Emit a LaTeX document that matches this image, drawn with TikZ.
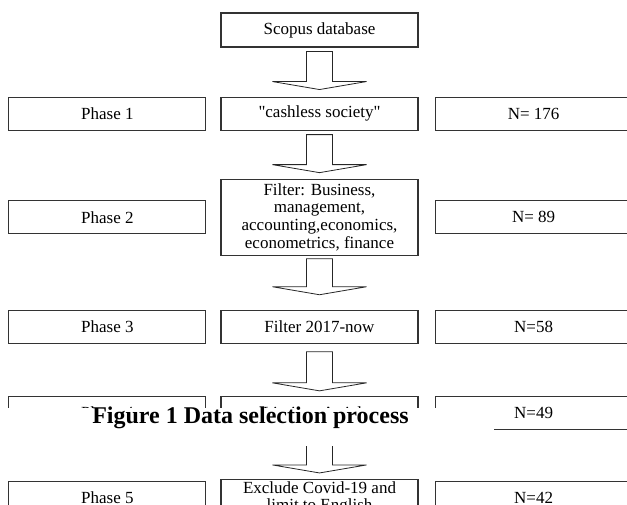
\documentclass[tikz,border=0pt]{standalone}
\usepackage{fontspec}
\setmainfont{Liberation Serif}[Ligatures=TeXOff]
\usetikzlibrary{positioning,calc}

% hollow down arrow: #1 upper node, #2 lower node, #3 gap below #1, #4 gap above #2
\newcommand{\blockarrow}[4]{%
    \draw[arrowline] ($(#1.south)+(-13pt,-#3)$) -- ($(#1.south)+(13pt,-#3)$)
        -- ($(#2.north)+(13pt,#4+8pt)$) -- ($(#2.north)+(47pt,#4+8pt)$)
        -- ($(#2.north)+(0pt,#4)$)
        -- ($(#2.north)+(-47pt,#4+8pt)$) -- ($(#2.north)+(-13pt,#4+8pt)$) -- cycle;
}

\begin{document}
\begin{tikzpicture} [
                x=1pt, y=1pt,
                stagebox/.style={
                    rectangle,
                    draw=black!80,
                    line width=1.1pt,
                    minimum width=197pt,
                    minimum height=33pt,
                    inner sep=2pt,
                    align=center,
                    font=\fontsize{17}{17.6}\selectfont
                },
                arrowline/.style={
                    draw=black!85,
                    line width=0.8pt,
                    line join=miter
                }
            ]

                \useasboundingbox (0,0) rectangle (627,504);
                \clip (0,0) rectangle (627,504);

                \node[stagebox, minimum height=34pt]    (scopus)    at (319.5,474)                  {Scopus database};

                \node[stagebox]                         (cashless)  [below=49pt of scopus]          {"cashless society"};
                \node[stagebox]                         (phase1)    [left=14pt of cashless]         {Phase 1};
                \node[stagebox]                         (count1)    [right=16pt of cashless]        {N= 176};

                \node[stagebox, minimum height=76pt]    (filter)    [below=48pt of cashless]        {Filter: Business,\\management,\\accounting,economics,\\econometrics, finance};
                \node[stagebox]                         (phase2)    [left=14pt of filter]           {Phase 2};
                \node[stagebox]                         (count2)    [right=16pt of filter]          {N= 89};

                \node[stagebox]                         (period)    [below=54pt of filter]          {Filter 2017-now};
                \node[stagebox]                         (phase3)    [left=14pt of period]           {Phase 3};
                \node[stagebox]                         (count3)    [right=16pt of period]          {N=58};

                \node[stagebox]                         (articles)  [below=52pt of period]          {Limit to Articles};
                \node[stagebox]                         (phase4)    [left=14pt of articles]         {Phase 4};
                \node[stagebox]                         (count4)    [right=16pt of articles]        {N=49};

                \node[stagebox]                         (exclude)   [below=49pt of articles]        {Exclude Covid-19 and\\limit to English};
                \node[stagebox]                         (phase5)    [left=14pt of exclude]          {Phase 5};
                \node[stagebox]                         (count5)    [right=16pt of exclude]         {N=42};

                \blockarrow{scopus}{cashless}{4pt}{7pt}
                \blockarrow{cashless}{filter}{4pt}{6pt}
                \blockarrow{filter}{period}{3pt}{15pt}
                \blockarrow{period}{articles}{8pt}{5pt}
                \blockarrow{articles}{exclude}{4pt}{6pt}

                % caption pasted over the fourth row
                \fill[white] (0,58) rectangle (494,96);
                \node[font=\bfseries\fontsize{24}{24}\selectfont, anchor=base] (caption) at (250.5,81) {Figure 1 Data selection process};

            \end{tikzpicture}
\end{document}
